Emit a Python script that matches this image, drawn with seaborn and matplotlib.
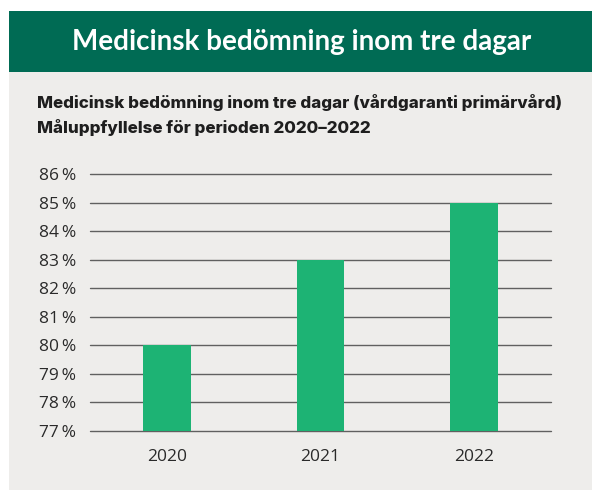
import matplotlib
matplotlib.use("Agg")
import matplotlib.pyplot as plt
import seaborn as sns
import pandas as pd
from matplotlib.patches import Rectangle

years = ["2020", "2021", "2022"]
values = [80, 83, 85]
yticks = [77, 78, 79, 80, 81, 82, 83, 84, 85, 86]
ytick_labels = [f"{v}\u2009%" for v in yticks]
header_title = "Medicinsk bedömning inom tre dagar"
subtitle_lines = ["Medicinsk bedömning inom tre dagar (vårdgaranti primärvård)",
                  "Måluppfyllelse för perioden 2020–2022"]

HEADER = "#006B54"
PANEL = "#EEEDEB"
BAR = "#1DB374"

sns.set_theme(style="white")
plt.rcParams["font.family"] = ["Open Sans", "DejaVu Sans"]

df = pd.DataFrame({"year": years, "value": values})

fig = plt.figure(figsize=(5.92, 4.91), dpi=100, facecolor="white")
W, H = 592, 491

def fx(px):
    return px / W

def fy(py):
    return 1 - py / H

fig.patches.append(Rectangle((fx(9), fy(490)), 1 - fx(9), fy(72) - fy(490),
                             transform=fig.transFigure, facecolor=PANEL, edgecolor="none", zorder=0))
fig.patches.append(Rectangle((fx(9), fy(72)), 1 - fx(9), fy(11) - fy(72),
                             transform=fig.transFigure, facecolor=HEADER, edgecolor="none", zorder=0))

fig.text(fx(302), fy(42), header_title, color="white", fontsize=20, fontweight="bold",
         family=["Lato", "DejaVu Sans"], ha="center", va="center")
for i, line in enumerate(subtitle_lines):
    fig.text(fx(37), fy(108 + 25 * i), line, color="#1e1e1e", fontsize=12.2, fontweight="heavy",
             family=["Inter", "DejaVu Sans"], ha="left", va="baseline")

ax = fig.add_axes([fx(90), fy(431), fx(551) - fx(90), fy(174) - fy(431)])
ax.set_zorder(5)
ax.set_facecolor("none")
sns.barplot(data=df, x="year", y="value", color=BAR, width=0.31, saturation=1, ax=ax,
            zorder=3, edgecolor="none", linewidth=0)
ax.set_ylim(77, 86)
ax.set_yticks(yticks)
ax.set_yticklabels(ytick_labels)
ax.set_xlabel("")
ax.set_ylabel("")
for s in ax.spines.values():
    s.set_visible(False)
ax.set_axisbelow(True)
ax.yaxis.grid(True, color="#606060", linewidth=1.0)
ax.xaxis.grid(False)
for gl in ax.get_ygridlines():
    gl.set_clip_on(False)
ax.tick_params(axis="y", length=0, pad=10, labelsize=12.5, labelcolor="#2a2a2a")
ax.tick_params(axis="x", length=0, pad=13, labelsize=12.5, labelcolor="#2a2a2a")

fig.savefig("out.png", dpi=100, facecolor="white")
